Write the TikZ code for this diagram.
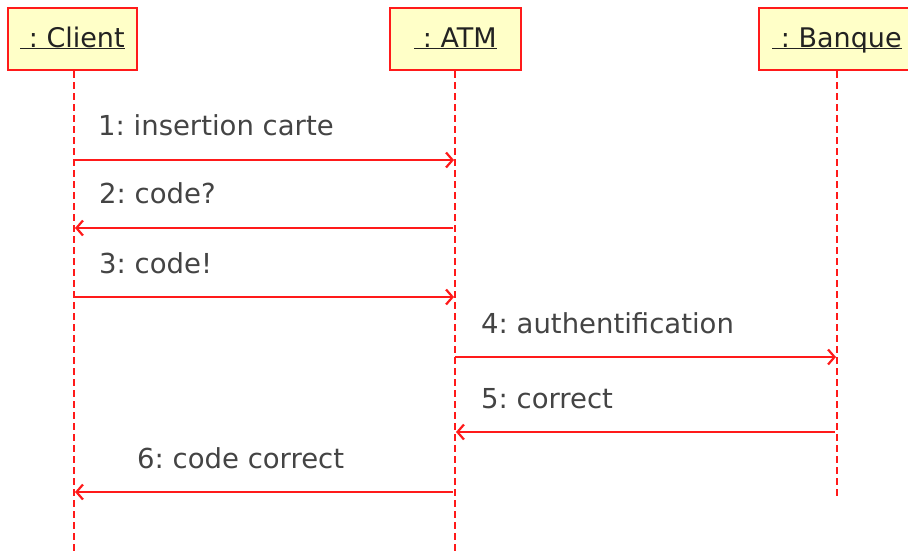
\documentclass[tikz,border=0pt]{standalone}
\usepackage{fontspec}
\setmainfont{DejaVu Sans}
\usetikzlibrary{arrows.meta}
\definecolor{lred}{HTML}{FF1A1A}
\definecolor{boxfill}{HTML}{FFFFC8}
\definecolor{hdtext}{HTML}{222222}
\definecolor{msgtext}{HTML}{444444}
\frenchspacing
\begin{document}
\begin{tikzpicture}[x=1pt,y=-1pt,
  objbox/.style={draw=lred, line width=2.2pt, fill=boxfill, minimum height=62pt, inner sep=0pt,
    text height=21pt, text depth=5pt,
    text=hdtext, font=\fontsize{27}{30}\selectfont},
  lifeline/.style={draw=lred, line width=2.2pt, dash pattern=on 7pt off 4pt},
  msg/.style={draw=lred, line width=2.2pt, -{Straight Barb[length=6.5pt,width=15pt]}},
  msglabel/.style={anchor=base west, inner sep=0pt, text=msgtext, font=\fontsize{27.5}{30}\selectfont}]
\useasboundingbox (0,0) rectangle (908,552);
\clip (0,0) rectangle (908,552);
\fill[white] (0,0) rectangle (908,552);

\node[objbox, minimum width=129pt] (client) at (72.5,39) {\underline{\smash{\ : Client}}};
\node[objbox, minimum width=131pt] (atm) at (455.5,39) {\underline{\smash{\ : ATM}}};
\node[objbox, minimum width=156pt] (banque) at (837,39) {\underline{\smash{\ : Banque}}};

\coordinate (cEnd) at (74,552);
\coordinate (aEnd) at (455,552);
\coordinate (bEnd) at (837,497);
\draw[lifeline] (client.south -| cEnd) -- (cEnd);
\draw[lifeline] (atm.south -| aEnd) -- (aEnd);
\draw[lifeline] (banque.south -| bEnd) -- (bEnd);

\coordinate (c1) at (74,160);  \coordinate (a1) at (454,160);
\coordinate (a2) at (453,228); \coordinate (c2) at (75,228);
\coordinate (c3) at (74,297);  \coordinate (a3) at (454,297);
\coordinate (a4) at (455,357); \coordinate (b4) at (836,357);
\coordinate (b5) at (835,432); \coordinate (a5) at (456,432);
\coordinate (a6) at (453,492); \coordinate (c6) at (75,492);

\draw[msg] (c1) -- (a1);
\draw[msg] (a2) -- (c2);
\draw[msg] (c3) -- (a3);
\draw[msg] (a4) -- (b4);
\draw[msg] (b5) -- (a5);
\draw[msg] (a6) -- (c6);

\node[msglabel] (l1) at (98,135) {1: insertion carte};
\node[msglabel] (l2) at (99,203) {2: code?};
\node[msglabel] (l3) at (99,273) {3: code!};
\node[msglabel] (l4) at (481,333) {4: authentification};
\node[msglabel] (l5) at (481,408) {5: correct};
\node[msglabel] (l6) at (137,468) {6: code correct};
\end{tikzpicture}
\end{document}
